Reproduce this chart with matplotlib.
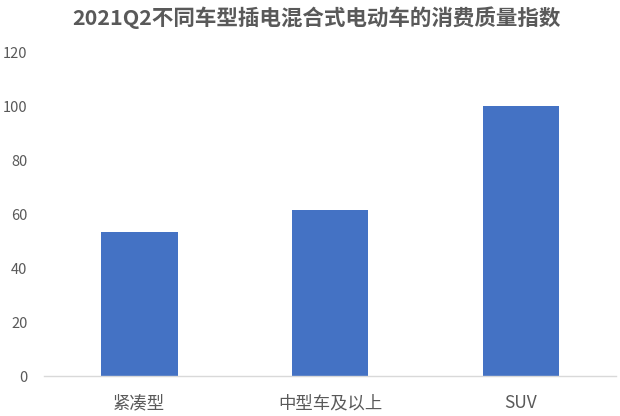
import matplotlib
matplotlib.use("Agg")
import matplotlib.pyplot as plt
import numpy as np

plt.rcParams['font.family'] = ['Noto Sans CJK SC', 'DejaVu Sans']

TITLE      = "2021Q2不同车型插电混合式电动车的消费质量指数"
CATEGORIES = ["紧凑型", "中型车及以上", "SUV"]
VALUES     = [53.2, 61.5, 100]
Y_TICKS    = [0, 20, 40, 60, 80, 100, 120]

BAR_COLOR  = "#4472C4"
TEXT_COLOR = "#595959"

fig = plt.figure(figsize=(6.2, 4.16), dpi=100)
ax = fig.add_axes([0.071, 0.096, 0.923, 0.779])

x = np.arange(len(CATEGORIES))
ax.bar(x, VALUES, width=0.4, color=BAR_COLOR)

ax.set_xlim(-0.5, len(CATEGORIES) - 0.5)
ax.set_ylim(0, 120)
ax.set_yticks(Y_TICKS)
ax.set_xticks(x)
ax.set_xticklabels(CATEGORIES, fontsize=12.5, color=TEXT_COLOR)
ax.tick_params(axis="y", length=0, labelsize=10.5, labelcolor=TEXT_COLOR, pad=12)
ax.tick_params(axis="x", length=0, pad=13)

for side in ["top", "right", "left"]:
    ax.spines[side].set_visible(False)
ax.spines["bottom"].set_color("#D9D9D9")
ax.spines["bottom"].set_linewidth(1)

fig.text(0.51, 0.958, TITLE, ha="center", va="center",
         fontsize=15.5, fontweight="bold", color=TEXT_COLOR)

fig.savefig("out.png", dpi=100)
